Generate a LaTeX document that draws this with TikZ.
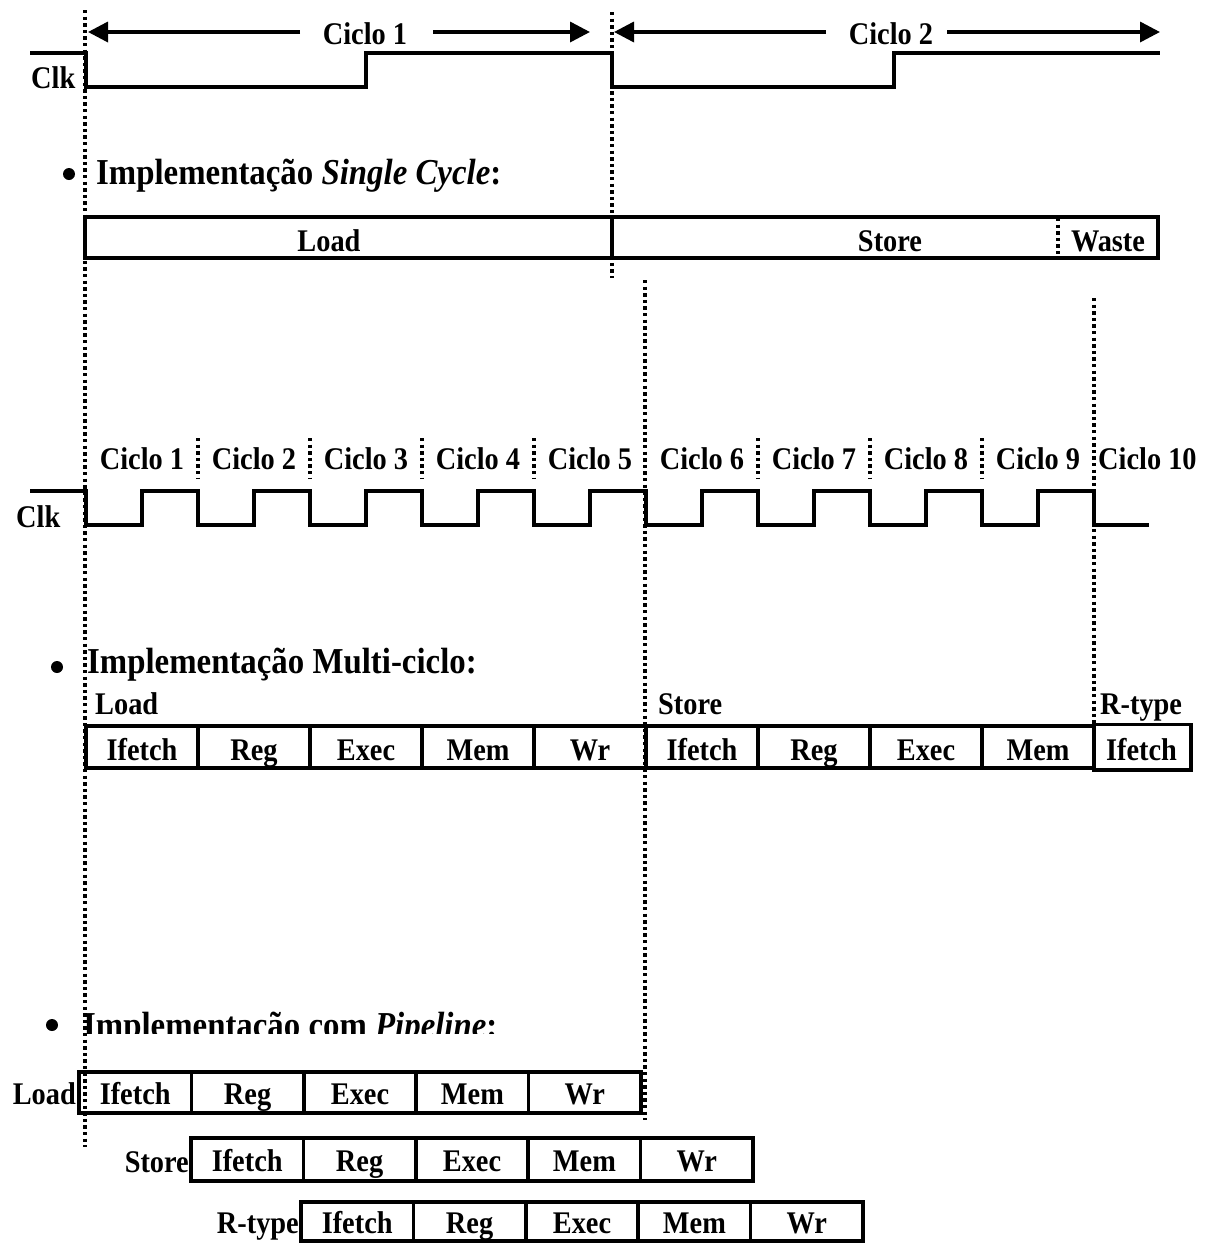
\documentclass[tikz,border=0pt]{standalone}
\usepackage{fontspec}
\usetikzlibrary{arrows.meta}
\newfontfamily\tnr{Liberation Serif}[FakeStretch=0.90]
\newcommand\lblfont{\tnr\bfseries\fontsize{31.5}{31.5}\selectfont}
\newcommand\hdgfont{\tnr\bfseries\fontsize{36.5}{36.5}\selectfont}
\begin{document}
\begin{tikzpicture}[x=1pt,y=-1pt,
  lbl/.style={font=\lblfont, inner sep=0pt},
  hdg/.style={font=\hdgfont, inner sep=0pt},
  sig/.style={line width=3.5pt, line join=miter},
  dots/.style={line width=3.5pt, dash pattern=on 3.3pt off 3.3pt},
  cell/.style={draw, line width=3.5pt, font=\lblfont, inner sep=0pt, minimum height=42pt, text height=26pt, text depth=0pt, minimum width=112pt},
  pcell/.style={cell, minimum width=112.4pt, text height=24pt},
  arr/.style={line width=3.5pt, -{Triangle[length=20pt,width=20pt]}},
  bul/.style={circle, fill, inner sep=0pt, minimum size=12pt}]
\useasboundingbox (0,0) rectangle (1210,1243);

% ---------- top: single-cycle clock ----------
\node[lbl, anchor=base] (c1) at (365,44) {Ciclo 1};
\node[lbl, anchor=base] (c2) at (891,44) {Ciclo 2};
\coordinate (c1a) at (300,32); \coordinate (c1L) at (88,32);
\coordinate (c1b) at (433,32); \coordinate (c1R) at (590,32);
\coordinate (c2a) at (826,32); \coordinate (c2L) at (614,32);
\coordinate (c2b) at (947,32); \coordinate (c2R) at (1160,32);
\draw[arr] (c1a) -- (c1L);
\draw[arr] (c1b) -- (c1R);
\draw[arr] (c2a) -- (c2L);
\draw[arr] (c2b) -- (c2R);

\node[lbl, anchor=base west] (clk1) at (31,88) {Clk};
\draw[sig] (30,53) -- (86,53) -- (86,87) -- (366,87) -- (366,53) -- (612,53) -- (612,87) -- (894,87) -- (894,53) -- (1160,53);

% ---------- single cycle ----------
\node[bul] (b1) at (69,174) {};
\node[hdg, anchor=base west] (h1) at (96,184) {Implementação \textit{Single Cycle}:};
\node[draw, line width=3.5pt, inner sep=0pt, minimum width=527pt, minimum height=41pt] (scL) at (348.5,237.5) {};
\node[draw, line width=3.5pt, inner sep=0pt, minimum width=546pt, minimum height=41pt] (scS) at (885,237.5) {};
\node[lbl, anchor=base] (scLt) at (329,251) {Load};
\node[lbl, anchor=base] (scSt) at (890,251) {Store};
\node[lbl, anchor=base] (scWt) at (1108,251) {Waste};
\draw[dots] (1058,218) -- (1058,258);

% ---------- multi-cycle clock ----------
\foreach \k in {1,...,9} {
  \node[lbl, anchor=base] (mc\k) at ({142+112*(\k-1)},469) {Ciclo \k};
}
\node[lbl, anchor=base west] (mc10) at (1098,469) {Ciclo 10};
\foreach \x in {198,310,422,534,758,870,982} {
  \draw[dots] (\x,438) -- (\x,479);
}
\node[lbl, anchor=base west] (clk2) at (16,527) {Clk};
\draw[sig] (30,491) -- (86,491)
  \foreach \k in {0,...,8} { -- ({86+112*\k},525) -- ({142+112*\k},525) -- ({142+112*\k},491) -- ({198+112*\k},491) }
  -- (1094,525) -- (1149,525);

% ---------- multi-cycle ----------
\node[bul] (b2) at (57,667) {};
\node[hdg, anchor=base west] (h2) at (87,673) {Implementação Multi-ciclo:};
\node[lbl, anchor=base west] (mLd) at (95,714) {Load};
\node[lbl, anchor=base west] (mSt) at (658,714) {Store};
\node[lbl, anchor=base west] (mRt) at (1100,714) {R-type};
\foreach \lab [count=\i from 0] in {Ifetch,Reg,Exec,Mem,Wr,Ifetch,Reg,Exec,Mem} {
  \node[cell] (m\i) at ({142+112*\i},747) {\lab};
}
\node[cell, draw=none, minimum width=95pt] (m9) at (1141.5,747) {Ifetch};
\draw[line width=3.5pt] (m9.north west) -- (m9.north east) -- (m9.south east) -- (m9.south west);

% ---------- pipeline ----------
\node[bul] (b3) at (52,1025) {};
\begin{scope}
  \clip (0,990) rectangle (700,1033);
  \node[hdg, anchor=base west] (h3) at (83,1037) {Implementação com \textit{Pipeline}:};
\end{scope}
\node[lbl, anchor=base east] (pLd) at (76,1104) {Load};
\node[lbl, anchor=base east] (pSt) at (189,1172) {Store};
\node[lbl, anchor=base east] (pRt) at (299,1233) {R-type};
\foreach \lab [count=\i from 0] in {Ifetch,Reg,Exec,Mem,Wr} {
  \node[pcell, minimum height=41pt] (pa\i) at ({79+56.2+112.4*\i},1092.5) {\lab};
  \node[pcell, minimum height=43pt] (pb\i) at ({191+56.2+112.4*\i},1159.5) {\lab};
  \node[pcell, minimum height=39pt, text height=23pt] (pc\i) at ({301+56.2+112.4*\i},1221.5) {\lab};
}

% ---------- dotted guide lines ----------
\draw[dots] (85,10) -- (85,1147);
\draw[dots] (612,12) -- (612,278);
\draw[dots] (645,280) -- (645,1120);
\draw[dots] (1094,298) -- (1094,768);
\end{tikzpicture}
\end{document}
